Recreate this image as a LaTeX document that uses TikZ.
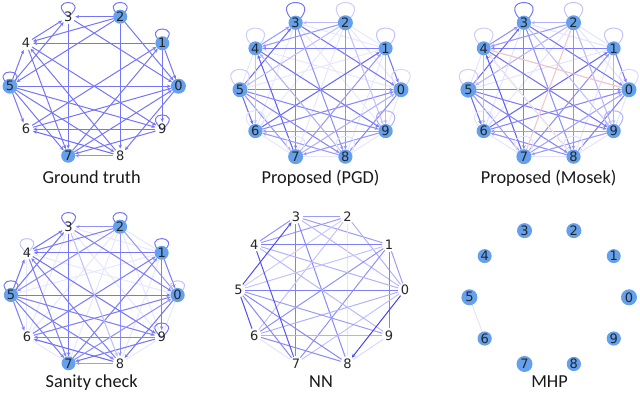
\documentclass[tikz,border=0pt]{standalone}
\usepackage{fontspec}
\newfontfamily\titlefont{Carlito}
\newfontfamily\labfont{DejaVu Sans}
\usetikzlibrary{arrows.meta}
\pgfdeclarelayer{edgelayer}
\pgfsetlayers{edgelayer,main}
\definecolor{nodeblue}{RGB}{100,160,235}
\definecolor{edgeblue}{RGB}{55,55,245}
\definecolor{edgepink}{RGB}{225,120,120}
\tikzset{
 vx/.style={circle, inner sep=0.5pt, outer sep=0pt, font=\labfont\fontsize{13}{13}\selectfont, text=black!85},
 ed/.style={line width=1pt},
 ar/.style={-{Stealth[length=4pt,width=3.4pt]}},
 ttl/.style={font=\titlefont\fontsize{18.3}{20}\selectfont, anchor=base, text=black!90},
}
\newcommand\placepanel[5]{%
  \foreach \k in {0,...,9}{\coordinate (#1c\k) at ({#2+#4*cos(36*\k)},{#3-#5*sin(36*\k)});}}
\newcommand\placenodes[2]{%
  \foreach \k/\r/\f in {#2}{\node[vx, minimum size={\r*2pt}, fill=\f] (#1\k) at (#1c\k) {\k};}}
\newcommand\edgeset[4]{%
  \foreach \a/\b/\o in {#4}{\pgfmathtruncatemacro\pc{\o*100}\draw[ed,#3,draw=#2!\pc] (#1\a) -- (#1\b);}}
\newcommand\faintall[2]{%
  \foreach \a in {0,...,8}{\pgfmathtruncatemacro\st{\a+1}\foreach \b in {\st,...,9}{\draw[ed,draw=edgeblue!#2] (#1\a) -- (#1\b);}}}
\newcommand\loopset[4]{%
  \foreach \k/\o in {#4}{\pgfmathtruncatemacro\pc{\o*100}\draw[ed,draw=edgeblue!\pc] (#1\k.center) .. controls +(-#2,-#3) and +(#2,-#3) .. (#1\k.center);}}
\begin{document}
\begin{tikzpicture}[x=1pt,y=-1pt]
\useasboundingbox (0,0) rectangle (640,392);
% ---------- Ground truth ----------
\placepanel{g}{94.2}{86.2}{84.2}{73.1}
\placenodes{g}{0/7.5/nodeblue,1/6.5/nodeblue,2/7/nodeblue,3/0/none,4/0/none,5/7.5/nodeblue,6/0/none,7/7/nodeblue,8/0/none,9/0/none}
\begin{pgfonlayer}{edgelayer}
\edgeset{g}{edgeblue}{ar}{2/3/0.7,3/7/0.7,3/0/0.7,4/3/0.7,5/3/0.7,2/4/0.7,2/5/0.7,2/8/0.7,2/0/0.7,1/4/0.7,1/9/0.7,1/0/0.7,6/1/0.7,7/1/0.7,5/0/0.7,6/0/0.7,0/8/0.7,9/6/0.7,9/7/0.7,4/9/0.7,5/9/0.7,8/6/0.75,8/4/0.7,5/7/0.7,4/7/0.7,5/6/0.7,5/4/0.7,5/8/0.7,7/0/0.7,8/7/0.55}
\loopset{g}{24}{19}{3/0.7,2/0.7,1/0.7,5/0.7,9/0.7}
\end{pgfonlayer}
\node[ttl] (tg) at (91.7,183.3) {Ground truth};
% ---------- Proposed (PGD) ----------
\placepanel{p}{320.5}{89.7}{80.5}{70.4}
\placenodes{p}{0/7.5/nodeblue,1/7/nodeblue,2/7.5/nodeblue,3/6.5/nodeblue,4/6/nodeblue,5/7.5/nodeblue,6/5.5/nodeblue,7/7.5/nodeblue,8/6.5/nodeblue,9/5.5/nodeblue}
\begin{pgfonlayer}{edgelayer}
\faintall{p}{12}
\edgeset{p}{edgeblue}{ar}{3/0/0.7,3/7/0.65,2/8/0.55,1/4/0.65,5/0/0.65,6/1/0.75,4/9/0.7,5/3/0.75,7/4/0.8,5/6/0.75,1/0/0.7,1/9/0.35,2/3/0.35,4/3/0.5,2/4/0.5,2/5/0.3,5/9/0.6,5/8/0.6,9/6/0.5,6/0/0.6,7/1/0.5,7/0/0.4,0/8/0.6,8/6/0.5,8/4/0.4,9/7/0.5,5/7/0.5,3/8/0.55,2/9/0.3,4/6/0.3}
\loopset{p}{32}{27}{3/0.7,2/0.25,1/0.3,0/0.2,9/0.4,4/0.25,5/0.25,6/0.15,7/0.15,8/0.15}
\end{pgfonlayer}
\node[ttl] (tp) at (320.5,183.3) {Proposed (PGD)};
% ---------- Proposed (Mosek) ----------
\placepanel{m}{548.7}{89.7}{80.3}{70.4}
\placenodes{m}{0/7.5/nodeblue,1/7/nodeblue,2/7.5/nodeblue,3/6.5/nodeblue,4/6/nodeblue,5/8/nodeblue,6/6/nodeblue,7/7.5/nodeblue,8/6/nodeblue,9/6/nodeblue}
\begin{pgfonlayer}{edgelayer}
\faintall{m}{14}
\edgeset{m}{edgeblue}{ar}{3/0/0.7,3/7/0.65,2/8/0.55,1/4/0.65,5/0/0.65,6/1/0.75,4/9/0.7,5/3/0.75,7/4/0.8,5/6/0.75,1/0/0.7,1/9/0.4,2/3/0.4,4/3/0.55,2/4/0.5,2/5/0.35,5/9/0.65,5/8/0.6,9/6/0.5,6/0/0.6,7/1/0.55,7/0/0.45,0/8/0.65,8/6/0.55,8/4/0.45,9/7/0.5,5/7/0.5,3/8/0.55,2/9/0.35,4/6/0.35,3/9/0.3}
\edgeset{m}{edgepink}{}{4/0/0.45,2/7/0.4,4/8/0.15}
\loopset{m}{32}{27}{3/0.7,2/0.3,1/0.3,0/0.2,9/0.4,4/0.25,5/0.25,6/0.15,7/0.15,8/0.15}
\end{pgfonlayer}
\node[ttl] (tm) at (548.7,183.3) {Proposed (Mosek)};
% ---------- Sanity check ----------
\placepanel{s}{94.3}{295}{83.3}{71.8}
\placenodes{s}{0/6.5/nodeblue,1/6.5/nodeblue,2/6.5/nodeblue,3/0/none,4/0/none,5/7/nodeblue,6/0/none,7/6.5/nodeblue,8/0/none,9/0/none}
\begin{pgfonlayer}{edgelayer}
\faintall{s}{12}
\edgeset{s}{edgeblue}{ar}{2/3/0.55,3/7/0.7,3/0/0.65,4/3/0.7,5/3/0.7,2/4/0.65,2/5/0.55,2/8/0.55,2/0/0.5,1/4/0.7,1/9/0.65,1/0/0.65,6/1/0.65,7/1/0.65,5/0/0.7,6/0/0.65,0/8/0.7,9/6/0.65,9/7/0.7,4/9/0.7,5/9/0.65,8/6/0.75,8/4/0.65,5/7/0.65,4/7/0.65,5/6/0.65,5/4/0.7,5/8/0.65,7/0/0.55,8/7/0.5,3/8/0.3}
\loopset{s}{24}{19}{3/0.7,2/0.7,1/0.7,5/0.7,9/0.7,4/0.3,0/0.3}
\end{pgfonlayer}
\node[ttl] (ts) at (91.7,387) {Sanity check};
% ---------- NN ----------
\placepanel{n}{321.7}{290}{83.3}{77.1}
\placenodes{n}{0/0/none,1/0/none,2/0/none,3/0/none,4/0/none,5/0/none,6/0/none,7/0/none,8/0/none,9/0/none}
\begin{pgfonlayer}{edgelayer}
\edgeset{n}{edgeblue}{}{3/2/0.5,3/4/0.55,4/2/0.5,3/1/0.5,3/0/0.35,3/7/0.65,3/8/0.6,2/0/0.4,2/8/0.15,2/6/0.3,2/5/0.25,1/4/0.65,1/0/0.5,1/9/0.65,1/6/0.55,1/7/0.55,0/5/0.65,0/6/0.4,0/7/0.3,4/0/0.4,9/6/0.4,9/5/0.5,9/8/0.2,8/5/0.6,8/6/0.6,7/5/0.6,7/6/0.15,6/5/0.9,5/1/0.3,4/9/0.35,7/4/0.85}
\edgeset{n}{edgeblue}{ar}{5/3/0.9,0/8/0.95}
\end{pgfonlayer}
\node[ttl] (tn) at (321,387) {NN};
% ---------- MHP ----------
\placepanel{h}{549.2}{297.3}{79.8}{70.1}
\placenodes{h}{0/8/nodeblue,1/7/nodeblue,2/7.5/nodeblue,3/7.5/nodeblue,4/7/nodeblue,5/8/nodeblue,6/6.5/nodeblue,7/8/nodeblue,8/7/nodeblue,9/6.5/nodeblue}
\begin{pgfonlayer}{edgelayer}
\edgeset{h}{edgeblue}{}{5/6/0.15}
\end{pgfonlayer}
\node[ttl] (th) at (549.5,387) {MHP};
\end{tikzpicture}
\end{document}
